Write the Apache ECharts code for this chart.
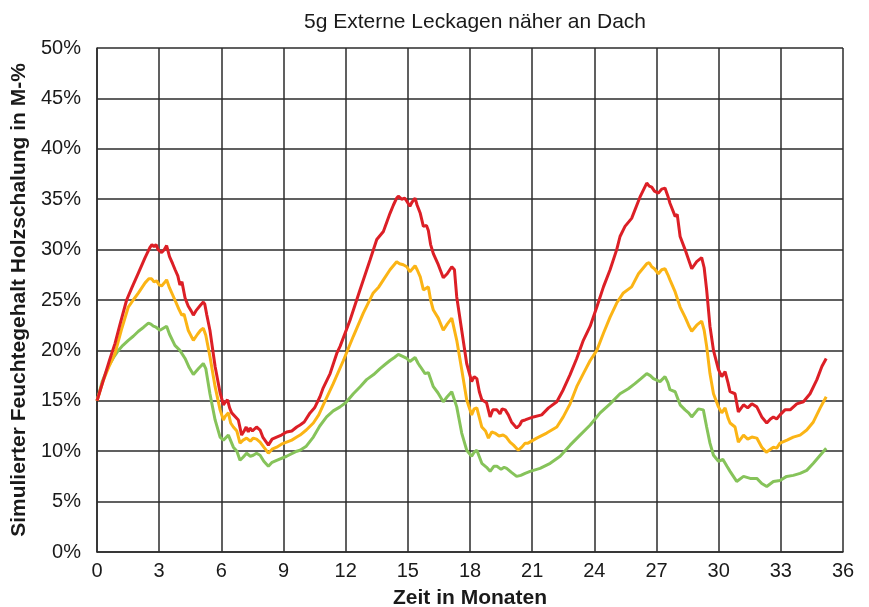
<!DOCTYPE html>
<html>
<head>
<meta charset="utf-8">
<script src="https://cdn.jsdelivr.net/npm/echarts@6/dist/echarts.min.js"></script>
<style>
  html, body { margin: 0; padding: 0; background: #ffffff; }
  #chart { width: 869px; height: 607px; }
</style>
</head>
<body>
<div id="chart"></div>
<script>
// Moisture content of the timber sheathing (M-%) over time, three sensor positions
const chartTitle = '5g Externe Leckagen näher an Dach';
const xAxisTitle = 'Zeit in Monaten';
const yAxisTitle = 'Simulierter Feuchtegehalt Holzschalung in M-%';

const redMonths = [0,0.3,0.6,0.87,1.1,1.43,1.7,2.0,2.32,2.55,2.65,2.75,2.85,2.95,3.12,3.25,3.36,3.5,3.65,3.77,3.9,4.0,4.1,4.25,4.4,4.55,4.65,4.8,5.0,5.13,5.2,5.3,5.45,5.7,5.94,6.1,6.2,6.3,6.4,6.5,6.82,6.98,7.1,7.2,7.3,7.38,7.5,7.7,7.87,8.0,8.27,8.45,8.67,8.9,9.15,9.4,9.64,9.8,10.0,10.28,10.5,10.76,10.9,11.25,11.57,11.73,12.21,12.69,13.18,13.5,13.82,14.14,14.3,14.46,14.54,14.7,14.85,14.95,15.1,15.2,15.35,15.45,15.6,15.75,15.9,15.99,16.1,16.23,16.47,16.71,16.9,17.12,17.25,17.36,17.6,17.84,18.08,18.2,18.33,18.45,18.57,18.8,18.97,19.1,19.3,19.45,19.55,19.7,19.85,20.0,20.25,20.4,20.5,20.66,20.74,21.06,21.46,21.79,22.19,22.5,22.83,23.15,23.47,23.8,24.12,24.44,24.76,25.08,25.24,25.48,25.8,26.2,26.53,26.65,26.77,26.9,27.09,27.25,27.41,27.55,27.65,27.9,28.0,28.14,28.38,28.55,28.7,28.94,29.18,29.3,29.42,29.58,29.75,29.99,30.15,30.31,30.45,30.55,30.79,30.95,31.2,31.4,31.6,31.84,32.08,32.32,32.5,32.64,32.8,32.96,33.2,33.45,33.77,34.09,34.41,34.74,34.98,35.19];
const redValues = [15,17,19,20.7,22.5,25,26.3,27.7,29.2,30.2,30.5,30.3,30.5,30.0,29.7,30.0,30.4,29.3,28.6,28.0,27.4,26.5,26.8,25.2,24.4,23.9,23.5,24.0,24.5,24.8,24.6,23.5,22.0,18.4,15.8,14.6,14.9,15.1,14.3,13.8,13.1,11.6,12.0,12.4,11.9,12.3,12.0,12.4,12.1,11.4,10.6,11.2,11.4,11.6,11.9,12.0,12.4,12.6,12.9,13.8,14.3,15.4,16.2,17.7,19.7,20.4,23.0,26.0,29.0,31.0,31.8,33.6,34.4,35.1,35.3,35.0,35.1,34.8,34.3,34.7,35.1,34.4,33.6,32.3,32.4,31.9,30.5,29.6,28.5,27.2,27.6,28.3,28.0,25.3,22.0,18.7,16.9,17.4,17.2,15.9,15.1,14.8,13.4,14.1,14.1,13.7,14.2,14.1,13.6,12.9,12.3,12.6,13.0,13.1,13.1,13.4,13.6,14.3,14.9,16.1,17.6,19.2,21.0,22.4,24.3,26.3,28.0,30.0,31.3,32.3,33.1,35.2,36.6,36.3,36.2,35.8,35.6,36.0,36.1,35.3,34.6,33.3,33.5,31.3,30.0,29.0,28.1,28.8,29.2,28.2,26.0,22.4,20.0,18.1,17.4,17.9,16.8,15.9,15.7,13.9,14.6,14.3,14.7,14.4,13.4,12.8,13.2,13.4,13.2,13.6,14.1,14.1,14.7,14.9,15.7,17.1,18.4,19.2];

const orangeMonths = [0,0.3,0.6,0.87,1.2,1.51,1.75,2.0,2.32,2.5,2.64,2.75,2.88,3.0,3.12,3.25,3.36,3.5,3.76,3.95,4.09,4.2,4.4,4.65,4.85,5.0,5.13,5.25,5.45,5.7,5.94,6.1,6.2,6.34,6.45,6.58,6.75,6.9,7.05,7.22,7.4,7.54,7.7,7.87,8.05,8.27,8.45,8.67,8.9,9.15,9.4,9.64,9.8,10.1,10.44,10.7,10.92,11.4,11.89,12.37,12.85,13.33,13.6,13.82,14.14,14.46,14.6,14.78,14.95,15.1,15.35,15.45,15.6,15.75,15.99,16.1,16.23,16.47,16.71,16.9,17.12,17.36,17.6,17.84,18.08,18.2,18.33,18.57,18.75,18.89,19.05,19.2,19.4,19.6,19.75,19.93,20.1,20.33,20.5,20.66,20.8,21.22,21.7,22.19,22.5,22.83,23.15,23.47,23.8,24.12,24.44,24.76,25.08,25.4,25.8,26.13,26.53,26.65,26.77,26.9,27.09,27.25,27.41,27.55,27.65,27.9,28.14,28.38,28.55,28.7,28.94,29.18,29.3,29.42,29.58,29.75,29.99,30.15,30.31,30.45,30.55,30.79,30.95,31.2,31.4,31.6,31.84,32.08,32.3,32.5,32.64,32.8,32.96,33.3,33.6,33.93,34.25,34.57,34.9,35.19];
const orangeValues = [15,17,18.5,19.7,22.2,24.3,25.0,25.7,26.7,27.1,27.1,26.8,26.9,26.5,26.4,26.7,27.0,26.2,25.0,24.1,23.5,23.6,22.0,21.0,21.6,22.0,22.2,21.5,19.4,16.4,14.1,13.1,13.5,13.8,12.8,12.4,12.0,10.8,11.1,11.3,11.0,11.3,11.2,10.9,10.4,9.8,10.2,10.4,10.7,10.9,11.1,11.4,11.6,12.1,12.8,13.6,14.6,16.7,19.0,21.4,23.7,25.7,26.3,27.0,28.0,28.8,28.6,28.5,28.3,27.8,28.4,28.0,27.3,26.0,26.3,25.0,24.0,23.2,22.0,22.6,23.2,21.0,18.1,15.1,13.6,14.2,14.3,12.4,12.0,11.3,11.9,11.8,11.5,11.6,11.4,10.9,10.6,10.1,10.4,10.8,10.8,11.3,11.8,12.4,13.4,14.7,16.4,17.7,19.0,20.0,21.7,23.3,24.7,25.7,26.3,27.6,28.6,28.7,28.3,28.1,27.6,28.0,28.1,27.5,27.0,25.8,24.3,23.3,22.5,21.9,22.5,22.9,22.0,20.4,17.7,15.7,14.4,13.8,14.3,13.3,12.8,12.4,10.9,11.6,11.2,11.4,11.3,10.4,9.9,10.2,10.4,10.3,10.8,11.1,11.4,11.6,12.1,12.9,14.3,15.4];

const greenMonths = [0,0.25,0.55,0.8,1.03,1.25,1.51,1.75,2.0,2.25,2.48,2.6,2.72,2.85,3.04,3.2,3.36,3.5,3.76,4.0,4.25,4.45,4.65,4.9,5.13,5.25,5.45,5.7,5.94,6.1,6.34,6.58,6.75,6.9,7.05,7.22,7.4,7.54,7.7,7.87,8.05,8.27,8.45,8.67,9.15,9.64,9.8,10.1,10.44,10.75,11.08,11.4,11.73,12.0,12.37,12.7,13.01,13.35,13.66,13.9,14.14,14.35,14.54,14.75,14.95,15.1,15.35,15.5,15.6,15.83,15.99,16.23,16.45,16.71,16.9,17.12,17.36,17.6,17.84,18.08,18.2,18.33,18.57,18.8,18.97,19.15,19.3,19.5,19.65,19.77,20.0,20.25,20.45,20.66,20.9,21.38,21.87,22.35,22.83,23.31,23.8,24.28,24.76,25.24,25.64,25.96,26.25,26.53,26.7,26.85,27.17,27.41,27.55,27.65,27.9,28.14,28.38,28.55,28.7,29.02,29.26,29.42,29.58,29.75,29.99,30.2,30.4,30.55,30.87,31.2,31.52,31.84,32.08,32.32,32.64,32.96,33.28,33.6,33.93,34.25,34.57,34.9,35.19];
const greenValues = [15,16.9,18.4,19.3,20.0,20.5,21.0,21.4,21.9,22.3,22.7,22.6,22.4,22.3,22.0,22.2,22.4,21.6,20.5,20.0,19.2,18.3,17.6,18.2,18.7,18.2,15.7,13.1,11.4,11.1,11.6,10.4,10.0,9.1,9.4,9.8,9.5,9.6,9.8,9.6,9.0,8.5,8.9,9.1,9.5,10.0,10.1,10.5,11.4,12.5,13.4,14.0,14.4,14.8,15.7,16.4,17.1,17.6,18.2,18.6,19.0,19.3,19.6,19.4,19.2,18.9,19.3,18.7,18.4,17.7,17.8,16.4,15.8,14.9,15.4,15.9,14.4,11.8,10.1,9.5,9.9,10.1,8.8,8.4,8.0,8.5,8.5,8.2,8.4,8.3,7.9,7.5,7.6,7.8,8.0,8.3,8.8,9.5,10.6,11.6,12.6,13.8,14.7,15.7,16.2,16.7,17.2,17.7,17.5,17.2,16.9,17.4,16.8,16.1,15.9,14.6,14.1,13.8,13.4,14.2,14.1,12.4,10.8,9.6,9.0,9.2,8.5,8.0,7.0,7.5,7.3,7.3,6.8,6.5,7.0,7.1,7.5,7.6,7.8,8.1,8.8,9.6,10.3];

const xTicks = { min: 0, max: 36, step: 3 };
const yTicks = { min: 0, max: 50, step: 5 };

function pairs(xs, ys) {
  return xs.map((x, i) => [x, ys[i]]);
}

const fontFamily = '"Liberation Sans", Arial, Helvetica, sans-serif';
const gridLine = { color: '#2b2b2b', width: 1.5 };

const chart = echarts.init(document.getElementById('chart'), null, { renderer: 'canvas' });

chart.setOption({
  backgroundColor: '#ffffff',
  animation: false,
  title: {
    text: chartTitle,
    left: 470,
    textAlign: 'center',
    top: 7,
    textStyle: { fontFamily, fontSize: 21, fontWeight: 'normal', color: '#1a1a1a' }
  },
  grid: {
    left: 97, right: 26, top: 48, bottom: 55,
    containLabel: false,
    outerBoundsMode: 'none'
  },
  xAxis: {
    type: 'value',
    min: xTicks.min,
    max: xTicks.max,
    interval: xTicks.step,
    name: xAxisTitle,
    nameLocation: 'middle',
    nameGap: 36,
    nameTextStyle: { fontFamily, fontSize: 21, fontWeight: 'bold', color: '#1a1a1a' },
    axisLine: { show: true, lineStyle: gridLine },
    axisTick: { show: false },
    axisLabel: { fontFamily, fontSize: 20, color: '#1a1a1a', margin: 9 },
    splitLine: { show: true, lineStyle: gridLine }
  },
  yAxis: {
    type: 'value',
    min: yTicks.min,
    max: yTicks.max,
    interval: yTicks.step,
    name: yAxisTitle,
    nameLocation: 'middle',
    nameGap: 61,
    nameTextStyle: { fontFamily, fontSize: 21, fontWeight: 'bold', color: '#1a1a1a' },
    axisLine: { show: true, lineStyle: gridLine },
    axisTick: { show: false },
    axisLabel: { fontFamily, fontSize: 20, color: '#1a1a1a', margin: 16, formatter: '{value}%' },
    splitLine: { show: true, lineStyle: gridLine }
  },
  series: [
    {
      name: 'grün',
      type: 'line',
      data: pairs(greenMonths, greenValues),
      showSymbol: false,
      lineStyle: { color: '#86c35a', width: 3 },
      itemStyle: { color: '#86c35a' },
      z: 3
    },
    {
      name: 'orange',
      type: 'line',
      data: pairs(orangeMonths, orangeValues),
      showSymbol: false,
      lineStyle: { color: '#fbb415', width: 3 },
      itemStyle: { color: '#fbb415' },
      z: 4
    },
    {
      name: 'rot',
      type: 'line',
      data: pairs(redMonths, redValues),
      showSymbol: false,
      lineStyle: { color: '#dc1f26', width: 3 },
      itemStyle: { color: '#dc1f26' },
      z: 5
    }
  ]
});
</script>
</body>
</html>
